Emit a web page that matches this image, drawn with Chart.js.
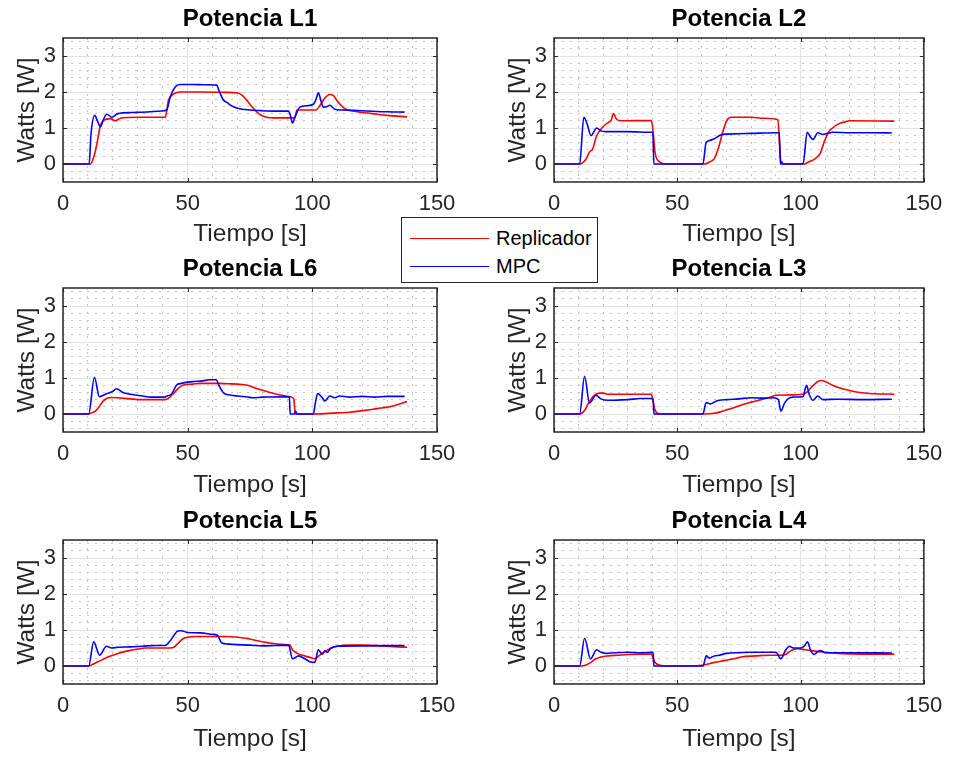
<!DOCTYPE html>
<html>
<head>
<meta charset="utf-8">
<title>Potencia por carga</title>
<script src="https://cdn.jsdelivr.net/npm/chart.js@4.4.1/dist/chart.umd.min.js"></script>
<style>
    body { margin: 0; background: #fff; }
    #fig { position: relative; width: 962px; height: 757px; overflow: hidden; }
    #fig canvas { position: absolute; }
    #legend {
        position: absolute; left: 401px; top: 217px; width: 195px; height: 64px;
        border: 1px solid #262626; background: #fff; z-index: 5;
        font: 20px "Liberation Sans", Arial, sans-serif; color: #000;
    }
    #legend .entry { position: absolute; left: 8px; height: 28px; display: flex; align-items: center; }
    #legend .swatch { width: 79px; height: 0; margin-right: 7px; }
</style>
</head>
<body>
<div id="fig">
    <div id="legend"></div>
</div>
<script>
// Potencia [W] vs tiempo [s] for each load, Replicador and MPC controllers
var tRepL1 = [0, 11, 12.3, 13.6, 15, 16.3, 19, 21, 23, 30, 41, 42.3, 43.7, 47, 55, 65, 70, 72, 73.7, 76.4, 79, 81.7, 85, 93, 93.8, 101.5, 103, 105, 107, 108.5, 110, 113, 118, 124, 130, 138];
var pRepL1 = [0, 0, 0.19, 0.56, 1.07, 1.21, 1.26, 1.2, 1.27, 1.3, 1.3, 1.77, 1.91, 2.0, 2.0, 1.99, 1.97, 1.9, 1.77, 1.54, 1.37, 1.3, 1.28, 1.28, 1.5, 1.5, 1.62, 1.83, 1.93, 1.9, 1.75, 1.54, 1.45, 1.4, 1.35, 1.31];
var tMpcL1 = [0, 10.5, 11.2, 12.7, 13.8, 15, 16.3, 17.6, 19.6, 22, 28, 35, 40.5, 41.6, 43, 45, 47, 52, 57, 61.7, 62.5, 64.4, 66, 67.5, 70.4, 75, 80, 85, 90.4, 91.2, 92, 93, 95, 98, 100.4, 101.5, 102.4, 103.5, 104.4, 106, 107, 109, 112, 120, 130, 137];
var pMpcL1 = [0, 0, 0.8, 1.35, 1.2, 1.03, 1.25, 1.38, 1.3, 1.4, 1.43, 1.45, 1.48, 1.5, 1.86, 2.14, 2.21, 2.21, 2.2, 2.19, 2.05, 1.77, 1.7, 1.62, 1.54, 1.5, 1.48, 1.47, 1.47, 1.35, 1.14, 1.3, 1.58, 1.62, 1.66, 1.8, 1.98, 1.75, 1.58, 1.6, 1.63, 1.52, 1.5, 1.48, 1.45, 1.44];

var tRepL2 = [0, 10.4, 11.5, 13, 14.4, 15.7, 17.1, 18.4, 20.4, 22.4, 23.2, 24.1, 25.3, 27, 39.5, 40.2, 41, 43, 45, 61, 63, 65, 66.5, 68.5, 70, 72, 80, 85, 90.8, 91.5, 92.2, 101.7, 103, 106, 108, 109.5, 111.5, 113, 115, 118, 120, 138];
var pRepL2 = [0, 0, 0.03, 0.14, 0.33, 0.42, 0.75, 0.91, 1.07, 1.17, 1.22, 1.4, 1.25, 1.2, 1.21, 0.9, 0.3, 0.05, 0, 0, 0.05, 0.15, 0.4, 0.9, 1.2, 1.3, 1.3, 1.27, 1.23, 0.5, 0, 0, 0.05, 0.15, 0.3, 0.6, 0.9, 1.0, 1.1, 1.17, 1.2, 1.19];
var tMpcL2 = [0, 10.4, 12.1, 13.5, 15, 17.3, 19, 21, 30, 39.5, 40.1, 40.5, 60.4, 61.7, 63, 65, 68, 70, 80, 90.8, 91.4, 91.8, 92.4, 92.8, 101, 102.7, 104, 105, 107, 109, 111, 113, 120, 130, 137];
var pMpcL2 = [0, 0, 1.3, 1.1, 0.79, 1.0, 0.92, 0.9, 0.9, 0.88, 0.88, 0, 0, 0.6, 0.65, 0.7, 0.82, 0.83, 0.85, 0.87, 0.87, 0, 0.06, 0, 0, 0.88, 0.75, 0.68, 0.87, 0.82, 0.85, 0.88, 0.87, 0.87, 0.86];

var tRepL6 = [0, 10.3, 12, 13, 14.5, 16, 17.5, 19.5, 22, 27, 32, 41, 42.5, 44, 46, 48, 52, 55, 62, 66, 70, 74, 78, 83, 87, 91, 92.5, 93.2, 100, 105, 110, 115, 121, 126, 131, 135, 138];
var pRepL6 = [0, 0, 0.05, 0.08, 0.2, 0.35, 0.43, 0.46, 0.45, 0.42, 0.4, 0.4, 0.45, 0.55, 0.7, 0.8, 0.83, 0.85, 0.85, 0.84, 0.83, 0.8, 0.7, 0.6, 0.53, 0.48, 0.43, 0, 0, 0.01, 0.03, 0.05, 0.1, 0.15, 0.2, 0.28, 0.35];
var tMpcL6 = [0, 10.3, 12.6, 14.6, 17, 20, 21.4, 24, 27, 32, 35, 41, 41.7, 43.5, 45.5, 47.5, 52, 56, 59, 61.5, 62.5, 64.5, 67, 70, 74, 76, 80, 90.8, 91.1, 92.8, 93.3, 93.8, 100.4, 101.2, 102.1, 104, 105, 107, 109, 111, 115, 120, 125, 130, 137];
var pMpcL6 = [0, 0, 1.02, 0.48, 0.55, 0.63, 0.7, 0.6, 0.55, 0.5, 0.47, 0.47, 0.5, 0.55, 0.8, 0.85, 0.9, 0.92, 0.95, 0.95, 0.8, 0.58, 0.53, 0.5, 0.47, 0.45, 0.47, 0.48, 0, 0, 0.08, 0, 0, 0.3, 0.57, 0.45, 0.36, 0.5, 0.45, 0.5, 0.47, 0.49, 0.47, 0.49, 0.49];

var tRepL3 = [0, 10.4, 12.4, 14, 16, 18.5, 20, 22, 39.5, 40.2, 41, 43, 61, 65, 68, 72, 76, 80, 84, 88, 90, 95, 101, 102.5, 104.5, 106.5, 108, 110, 113, 117, 122, 128, 138];
var pRepL3 = [0, 0, 0.1, 0.3, 0.5, 0.58, 0.58, 0.55, 0.55, 0.35, 0.1, 0, 0, 0.02, 0.07, 0.15, 0.25, 0.33, 0.4, 0.47, 0.52, 0.53, 0.55, 0.6, 0.75, 0.88, 0.93, 0.9, 0.8, 0.7, 0.62, 0.57, 0.55];
var tMpcL3 = [0, 10.4, 12.4, 14.4, 17, 19, 22, 30, 35, 40, 40.2, 40.5, 60.4, 61.7, 63.5, 65, 67, 70, 75, 80, 85, 89, 91, 92, 93.5, 95, 97, 101, 102.4, 103.5, 105, 107, 109, 115, 125, 137];
var pMpcL3 = [0, 0, 1.05, 0.3, 0.52, 0.42, 0.38, 0.4, 0.43, 0.43, 0.43, 0, 0, 0.32, 0.28, 0.33, 0.38, 0.4, 0.42, 0.45, 0.44, 0.45, 0.4, 0.08, 0.3, 0.43, 0.47, 0.48, 0.8, 0.55, 0.38, 0.5, 0.4, 0.41, 0.4, 0.41];

var tRepL5 = [0, 10.3, 12, 15, 18, 22, 26, 30, 33, 43, 44.5, 46, 48, 50, 53, 65, 70, 75, 78, 82, 88, 91, 92, 94, 97, 100, 101, 103, 105, 107, 110, 115, 120, 128, 134, 138];
var pRepL5 = [0, 0, 0.05, 0.15, 0.25, 0.35, 0.42, 0.47, 0.5, 0.5, 0.52, 0.62, 0.75, 0.8, 0.82, 0.82, 0.8, 0.75, 0.7, 0.65, 0.6, 0.58, 0.45, 0.35, 0.28, 0.22, 0.2, 0.3, 0.4, 0.48, 0.55, 0.58, 0.58, 0.56, 0.53, 0.52];
var tMpcL5 = [0, 10.3, 12.3, 14.7, 17.4, 19.5, 22, 27, 32, 37, 41, 43, 44.5, 46, 47.5, 50, 55, 60, 62, 63.5, 65, 68, 75, 80, 85, 90.5, 92, 94.5, 97, 99, 101, 102.4, 104, 105, 106, 107.5, 110, 120, 137];
var pMpcL5 = [0, 0, 0.67, 0.3, 0.55, 0.5, 0.52, 0.53, 0.55, 0.57, 0.57, 0.7, 0.85, 0.97, 0.98, 0.93, 0.92, 0.88, 0.85, 0.65, 0.62, 0.6, 0.58, 0.56, 0.57, 0.58, 0.2, 0.28, 0.2, 0.12, 0.1, 0.45, 0.33, 0.42, 0.38, 0.5, 0.55, 0.56, 0.57];

var tRepL4 = [0, 11, 13, 15, 17, 19, 22, 26, 30, 35, 39.5, 40.3, 41, 43, 45, 55, 60, 62, 65, 69, 73, 76, 82, 87, 92, 94, 95.5, 97, 98.5, 102, 105, 110, 115, 125, 138];
var pRepL4 = [0, 0, 0.03, 0.1, 0.2, 0.25, 0.28, 0.3, 0.32, 0.33, 0.33, 0.2, 0.1, 0.02, 0, 0, 0.02, 0.05, 0.1, 0.15, 0.2, 0.25, 0.28, 0.3, 0.3, 0.32, 0.4, 0.45, 0.48, 0.45, 0.42, 0.38, 0.35, 0.33, 0.33];
var tMpcL4 = [0, 10.4, 12.4, 14.8, 17.3, 19, 21, 25, 30, 35, 40, 40.2, 40.5, 60.4, 61.8, 63, 65, 67, 70, 75, 80, 90, 92, 94, 95.5, 97, 100, 101.5, 102.8, 104, 105.5, 107, 108, 110, 120, 137];
var pMpcL4 = [0, 0, 0.77, 0.2, 0.45, 0.38, 0.35, 0.37, 0.38, 0.37, 0.38, 0.38, 0, 0, 0.28, 0.22, 0.28, 0.3, 0.35, 0.37, 0.38, 0.38, 0.2, 0.45, 0.55, 0.5, 0.5, 0.55, 0.67, 0.45, 0.32, 0.4, 0.43, 0.37, 0.37, 0.36];

var seriesNames = ["Replicador", "MPC"];
var seriesColors = ["#ff0000", "#0000ff"];
var xTicks = [0, 50, 100, 150];
var yTicks = [0, 1, 2, 3];

// subplot order: row by row, left then right
var panels = [
    {title: "Potencia L1", rep: [tRepL1, pRepL1], mpc: [tMpcL1, pMpcL1], col: 0, row: 0},
    {title: "Potencia L2", rep: [tRepL2, pRepL2], mpc: [tMpcL2, pMpcL2], col: 1, row: 0},
    {title: "Potencia L6", rep: [tRepL6, pRepL6], mpc: [tMpcL6, pMpcL6], col: 0, row: 1},
    {title: "Potencia L3", rep: [tRepL3, pRepL3], mpc: [tMpcL3, pMpcL3], col: 1, row: 1},
    {title: "Potencia L5", rep: [tRepL5, pRepL5], mpc: [tMpcL5, pMpcL5], col: 0, row: 2},
    {title: "Potencia L4", rep: [tRepL4, pRepL4], mpc: [tMpcL4, pMpcL4], col: 1, row: 2}
];

// canvas placement of the 3x2 grid
var canvasW = 470, canvasH = 252;
var colLeft = [0, 481];
var colYWidth = [63, 73];
var colPadRight = [33, 22];
var colYTitlePad = [12.3, 22.3];
var rowTop = [0, 250, 502];
var rowXTitlePad = [3.3, 2.3, 0.5];

Chart.defaults.font.family = "'Liberation Sans', Arial, sans-serif";

var majorGrid = "#e2e2e2";
var minorGrid = "#c2c2c2";

// minor grid every 10 s and every 0.2 W
var xGrid = [];
for (var i = 0; i <= 15; i++) xGrid.push(i * 10);
var yGrid = [];
for (var k = -2; k <= 17; k++) yGrid.push(Math.round(k * 2) / 10);

var isMajor = function (list, c) {
    return c.tick && list.indexOf(c.tick.value) >= 0;
};

// closed box with inward tick marks
var axesBox = {
    id: 'axesBox',
    afterDatasetsDraw: function (chart) {
        var a = chart.chartArea, x = chart.scales.x, y = chart.scales.y, ctx = chart.ctx;
        var len = 4;
        ctx.save();
        ctx.strokeStyle = "#262626";
        ctx.lineWidth = 1;
        ctx.beginPath();
        xTicks.forEach(function (v) {
            var px = Math.round(x.getPixelForValue(v)) + 0.5;
            ctx.moveTo(px, a.bottom); ctx.lineTo(px, a.bottom - len);
            ctx.moveTo(px, a.top); ctx.lineTo(px, a.top + len);
        });
        yTicks.forEach(function (v) {
            var py = Math.round(y.getPixelForValue(v)) + 0.5;
            ctx.moveTo(a.left, py); ctx.lineTo(a.left + len, py);
            ctx.moveTo(a.right, py); ctx.lineTo(a.right - len, py);
        });
        ctx.stroke();
        ctx.lineWidth = 1.5;
        ctx.strokeRect(a.left, a.top, a.right - a.left, a.bottom - a.top);
        ctx.restore();
    }
};

var toPoints = function (pair) {
    return pair[0].map(function (t, i) { return {x: t, y: pair[1][i]}; });
};

var fig = document.getElementById('fig');

panels.forEach(function (p) {
    var canvas = document.createElement('canvas');
    canvas.width = canvasW;
    canvas.height = canvasH;
    canvas.style.width = canvasW + 'px';
    canvas.style.height = canvasH + 'px';
    canvas.style.left = colLeft[p.col] + 'px';
    canvas.style.top = rowTop[p.row] + 'px';
    fig.appendChild(canvas);

    new Chart(canvas, {
        type: 'line',
        data: {
            datasets: [
                {label: seriesNames[0], data: toPoints(p.rep), borderColor: seriesColors[0], order: 1},
                {label: seriesNames[1], data: toPoints(p.mpc), borderColor: seriesColors[1], order: 0}
            ]
        },
        options: {
            responsive: false,
            animation: false,
            layout: {padding: {left: 0, right: colPadRight[p.col], top: 0, bottom: 0}},
            elements: {
                point: {radius: 0},
                line: {borderWidth: 1.6, cubicInterpolationMode: 'monotone', fill: false}
            },
            plugins: {
                legend: {display: false},
                tooltip: {enabled: false},
                title: {
                    display: true,
                    text: p.title,
                    fullSize: false,
                    color: "#000",
                    font: {size: 24, weight: 'bold'},
                    padding: {top: 4.6, bottom: 4.6}
                }
            },
            scales: {
                x: {
                    type: 'linear',
                    min: 0,
                    max: 150,
                    afterBuildTicks: function (s) { s.ticks = xGrid.map(function (v) { return {value: v}; }); },
                    afterFit: function (s) { s.height = 70; },
                    ticks: {
                        autoSkip: false,
                        maxRotation: 0,
                        padding: 8.8,
                        color: "#262626",
                        font: {size: 22},
                        callback: function (v) { return xTicks.indexOf(v) >= 0 ? v : ''; }
                    },
                    grid: {
                        drawTicks: false,
                        lineWidth: 1,
                        color: function (c) { return isMajor(xTicks, c) ? majorGrid : minorGrid; }
                    },
                    border: {
                        display: false,
                        dash: function (c) { return isMajor(xTicks, c) || !c.tick ? [] : [2, 6]; }
                    },
                    title: {
                        display: true,
                        text: "Tiempo [s]",
                        color: "#262626",
                        font: {size: 24.5},
                        padding: {top: 0, bottom: rowXTitlePad[p.row]}
                    }
                },
                y: {
                    type: 'linear',
                    min: -0.5,
                    max: 3.5,
                    afterBuildTicks: function (s) { s.ticks = yGrid.map(function (v) { return {value: v}; }); },
                    afterFit: function (s) { s.width = colYWidth[p.col]; },
                    ticks: {
                        autoSkip: false,
                        padding: 7,
                        color: "#262626",
                        font: {size: 22},
                        callback: function (v) { return yTicks.indexOf(v) >= 0 ? v : ''; }
                    },
                    grid: {
                        drawTicks: false,
                        lineWidth: 1,
                        color: function (c) { return isMajor(yTicks, c) ? majorGrid : minorGrid; }
                    },
                    border: {
                        display: false,
                        dash: function (c) { return isMajor(yTicks, c) || !c.tick ? [] : [2, 6]; }
                    },
                    title: {
                        display: true,
                        text: "Watts [W]",
                        color: "#262626",
                        font: {size: 24.5},
                        padding: {top: colYTitlePad[p.col], bottom: 0}
                    }
                }
            }
        },
        plugins: [axesBox]
    });
});

// shared legend between the upper plots
var legend = document.getElementById('legend');
seriesNames.forEach(function (name, i) {
    var entry = document.createElement('div');
    entry.className = 'entry';
    entry.style.top = (6 + i * 28) + 'px';
    var swatch = document.createElement('span');
    swatch.className = 'swatch';
    swatch.style.borderTop = '1.5px solid ' + seriesColors[i];
    var label = document.createElement('span');
    label.textContent = name;
    entry.appendChild(swatch);
    entry.appendChild(label);
    legend.appendChild(entry);
});
</script>
</body>
</html>
